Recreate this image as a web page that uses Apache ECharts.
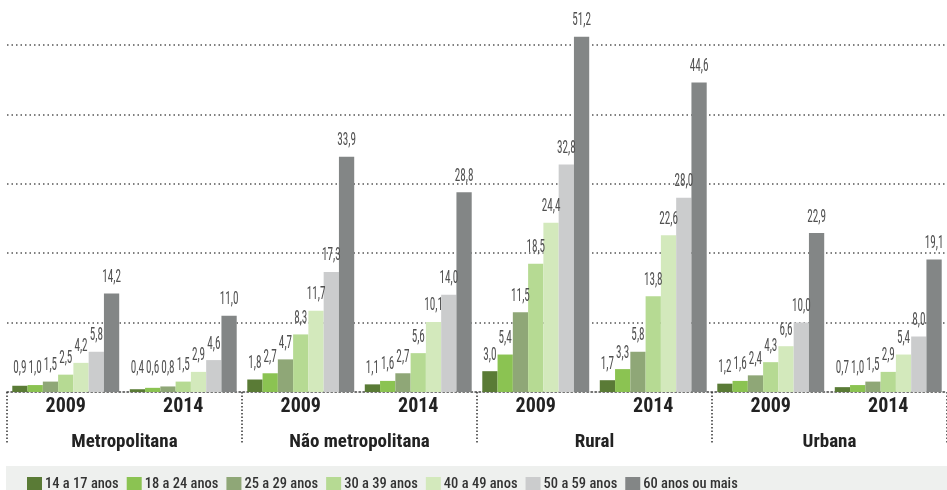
<!DOCTYPE html>
<html>
<head>
<meta charset="utf-8">
<style>
  html, body { margin: 0; padding: 0; background: #fff; }
  #chart { width: 947px; height: 490px; }
</style>
</head>
<body>
<div id="chart"></div>
<script src="https://cdn.jsdelivr.net/npm/echarts@6/dist/echarts.min.js"></script>
<script>
const chart = echarts.init(document.getElementById('chart'));

// categorias: ano dentro de cada região
const years = ['2009', '2014', '2009', '2014', '2009', '2014', '2009', '2014'];
const regions = ['Metropolitana', 'Não metropolitana', 'Rural', 'Urbana'];

const ageGroups = ['14 a 17 anos', '18 a 24 anos', '25 a 29 anos', '30 a 39 anos',
  '40 a 49 anos', '50 a 59 anos', '60 anos ou mais'];

// valores por faixa etária (na ordem das categorias)
const age14_17 = [0.9, 0.4, 1.8, 1.1, 3.0, 1.7, 1.2, 0.7];
const age18_24 = [1.0, 0.6, 2.7, 1.6, 5.4, 3.3, 1.6, 1.0];
const age25_29 = [1.5, 0.8, 4.7, 2.7, 11.5, 5.8, 2.4, 1.5];
const age30_39 = [2.5, 1.5, 8.3, 5.6, 18.5, 13.8, 4.3, 2.9];
const age40_49 = [4.2, 2.9, 11.7, 10.1, 24.4, 22.6, 6.6, 5.4];
const age50_59 = [5.8, 4.6, 17.3, 14.0, 32.8, 28.0, 10.0, 8.0];
const age60up = [14.2, 11.0, 33.9, 28.8, 51.2, 44.6, 22.9, 19.1];

const seriesValues = [age14_17, age18_24, age25_29, age30_39, age40_49, age50_59, age60up];
const colors = ['#5a7b36', '#8bc352', '#8fa777', '#b6da93', '#d3e9bc', '#cbcccd', '#838686'];

// Roboto variável com largura condensada (fontStyle entra antes do tamanho na string da fonte)
const font = 'Roboto, sans-serif';
const stretch = 'condensed';
const gapPct = 0.09;

// pontos para os rótulos: [categoria, valor, faixa]
const labelData = [];
seriesValues.forEach((vals, k) => vals.forEach((v, j) => labelData.push([j, v, k])));

const fmt = v => v.toFixed(1).replace('.', ',');

const option = {
  animation: false,
  color: colors,
  grid: { left: 7, right: 0, top: 0, bottom: 98 },
  graphic: [
    // faixa cinza da legenda
    { type: 'rect', left: 6, top: 466, shape: { width: 941, height: 24 },
      style: { fill: '#eef0ee' }, z: -1 }
  ],
  legend: {
    left: 22, top: 472,
    itemWidth: 15, itemHeight: 15, itemGap: 8,
    icon: 'rect',
    data: ageGroups,
    textStyle: { fontFamily: font, fontStyle: stretch, fontWeight: 500, fontSize: 14.5, color: '#333', padding: [0, 0, 0, -2] }
  },
  xAxis: [
    {
      type: 'category',
      data: years,
      axisLine: { lineStyle: { color: '#444', type: [1.5, 2.5], width: 1.5 } },
      axisTick: { show: false },
      axisLabel: { fontFamily: font, fontStyle: stretch, fontSize: 20, fontWeight: 'bold', color: '#222', margin: 5 }
    },
    {
      type: 'category',
      data: regions,
      position: 'bottom',
      offset: 33,
      axisLine: { show: false },
      axisTick: { show: false },
      axisLabel: { fontFamily: font, fontStyle: stretch, fontSize: 19, fontWeight: 'bold', color: '#222' }
    },
    {
      // separadores verticais entre regiões
      type: 'category',
      data: regions,
      position: 'bottom',
      axisLine: { show: false },
      axisLabel: { show: false },
      axisTick: { show: true, length: 52, lineStyle: { color: '#333', type: [1.5, 2], width: 1.5 } }
    }
  ],
  yAxis: {
    type: 'value',
    min: 0, max: 56.5, interval: 10,
    axisLabel: { show: false },
    axisLine: { show: false },
    axisTick: { show: false },
    splitLine: {
      showMinLine: false, showMaxLine: false,
      lineStyle: { color: '#555', type: [1.5, 3], width: 1.5 }
    }
  },
  series: seriesValues.map((vals, i) => ({
    name: ageGroups[i],
    type: 'bar',
    xAxisIndex: 0,
    barGap: '0%',
    barCategoryGap: (gapPct * 100) + '%',
    data: vals
  })).concat([{
    // rótulos estreitos (texto comprimido na horizontal)
    name: 'rotulos',
    type: 'custom',
    xAxisIndex: 0,
    z: 5,
    data: labelData,
    encode: { x: 0, y: 1 },
    renderItem: function (params, api) {
      const cat = api.value(0), val = api.value(1), k = api.value(2);
      const top = api.coord([cat, val]);
      const base = api.coord([cat, 0]);
      const bw = api.size([1, 0])[0] * (1 - gapPct) / seriesValues.length;
      const x = top[0] + (k - (seriesValues.length - 1) / 2) * bw;
      const y = Math.min(top[1] - 7, base[1] - 15);
      return {
        type: 'text',
        x: x, y: y,
        scaleX: 0.62,
        style: {
          text: fmt(val),
          fontFamily: font, fontStyle: stretch, fontSize: 18,
          fill: '#505050', align: 'center', verticalAlign: 'bottom'
        }
      };
    }
  }])
};

chart.setOption(option);
</script>
</body>
</html>
